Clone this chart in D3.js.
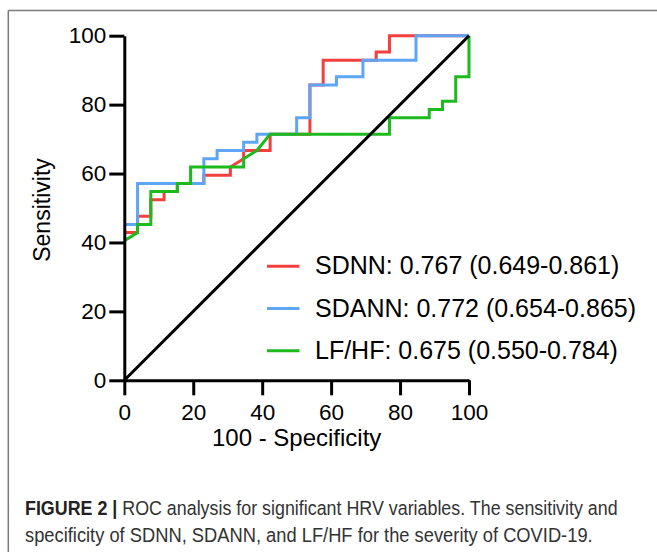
<!DOCTYPE html>
<html>
<head>
<meta charset="utf-8">
<script src="https://cdn.jsdelivr.net/npm/d3@7"></script>
<style>
  html, body { margin: 0; padding: 0; background: #fff; }
  svg { display: block; }
</style>
</head>
<body>
<svg id="chart" width="657" height="552"></svg>
<script>
// ---- Data (100 - Specificity %, Sensitivity %) ----
const sdnnX  = [0, 3.85, 3.85, 7.69, 7.69, 11.54, 11.54, 15.38, 15.38, 23.08, 23.08, 30.77, 30.77, 34.62, 34.62, 42.31, 42.31, 53.85, 53.85, 57.69, 57.69, 73.08, 73.08, 76.92, 76.92, 100];
const sdnnY  = [42.86, 42.86, 47.62, 47.62, 52.38, 52.38, 54.76, 54.76, 57.14, 57.14, 59.52, 59.52, 61.90, 64.29, 66.67, 66.67, 71.43, 71.43, 85.71, 85.71, 92.86, 92.86, 95.24, 95.24, 100, 100];

const sdannX = [0, 3.85, 3.85, 23.08, 23.08, 26.92, 26.92, 34.62, 34.62, 38.46, 38.46, 50, 50, 53.85, 53.85, 61.54, 61.54, 69.23, 69.23, 84.62, 84.62, 100];
const sdannY = [45.24, 45.24, 57.14, 57.14, 64.29, 64.29, 66.67, 66.67, 69.05, 69.05, 71.43, 71.43, 76.19, 76.19, 85.71, 85.71, 88.10, 88.10, 92.86, 92.86, 100, 100];

const lfhfX  = [0, 3.85, 3.85, 7.69, 7.69, 15.38, 15.38, 19.23, 19.23, 34.62, 34.62, 38.46, 42.31, 76.92, 76.92, 88.46, 88.46, 92.31, 92.31, 96.15, 96.15, 100, 100];
const lfhfY  = [40.48, 42.86, 45.24, 45.24, 54.76, 54.76, 57.14, 57.14, 61.90, 61.90, 64.29, 66.67, 71.43, 71.43, 76.19, 76.19, 78.57, 78.57, 80.95, 80.95, 88.10, 88.10, 100];

const referenceX = [0, 100];
const referenceY = [0, 100];

const seriesNames  = ["SDNN", "SDANN", "LF/HF"];
const legendLabels = ["SDNN: 0.767 (0.649-0.861)", "SDANN: 0.772 (0.654-0.865)", "LF/HF: 0.675 (0.550-0.784)"];
const seriesColors = ["#f2403f", "#5ea5f5", "#1cba1c"];

const xTicks = [0, 20, 40, 60, 80, 100];
const yTicks = [0, 20, 40, 60, 80, 100];

const xTitle = "100 - Specificity";
const yTitle = "Sensitivity";
const captionBold = "FIGURE 2 |";
const captionLine1 = " ROC analysis for significant HRV variables. The sensitivity and";
const captionLine2 = "specificity of SDNN, SDANN, and LF/HF for the severity of COVID-19.";

// ---- Layout ----
const svg = d3.select("#chart");
const FONT = "'Liberation Sans', Arial, Helvetica, sans-serif";

const x = d3.scaleLinear().domain([0, 100]).range([124.3, 469]);
const y = d3.scaleLinear().domain([0, 100]).range([380.3, 35.7]);

// frame (cropped box)
svg.append("line").attr("x1", 8.3).attr("x2", 657).attr("y1", 10.5).attr("y2", 10.5)
  .attr("stroke", "#7a7a7a").attr("stroke-width", 1.5);
svg.append("line").attr("x1", 8.3).attr("x2", 8.3).attr("y1", 10.5).attr("y2", 552)
  .attr("stroke", "#7a7a7a").attr("stroke-width", 1.5);

// curves
const line = d3.line().x(d => x(d[0])).y(d => y(d[1]));
const series = [
  d3.zip(sdnnX, sdnnY),
  d3.zip(sdannX, sdannY),
  d3.zip(lfhfX, lfhfY)
];
series.forEach((pts, i) => {
  svg.append("path").datum(pts).attr("d", line)
    .attr("fill", "none").attr("stroke", seriesColors[i])
    .attr("stroke-width", 3).attr("stroke-linejoin", "miter");
});

// reference diagonal
svg.append("path").datum(d3.zip(referenceX, referenceY)).attr("d", line)
  .attr("fill", "none").attr("stroke", "#000").attr("stroke-width", 3);

// axes
const xAxis = d3.axisBottom(x).tickValues(xTicks).tickSize(15).tickSizeOuter(0).tickPadding(9);
const yAxis = d3.axisLeft(y).tickValues(yTicks).tickSize(15).tickSizeOuter(0).tickPadding(3);

const gx = svg.append("g").attr("transform", `translate(0,${y(0)})`).call(xAxis);
const gy = svg.append("g").attr("transform", `translate(${x(0)},0)`).call(yAxis);
[gx, gy].forEach(g => {
  g.select(".domain").attr("stroke", "#000").attr("stroke-width", 3);
  g.selectAll(".tick line").attr("stroke", "#000").attr("stroke-width", 3);
  g.selectAll(".tick text").attr("fill", "#000")
    .style("font-family", FONT).style("font-size", "22.5px");
});

// axis titles
svg.append("text").attr("x", (x(0) + x(100)) / 2).attr("y", 446)
  .attr("text-anchor", "middle").style("font-family", FONT).style("font-size", "24px")
  .attr("fill", "#000").text(xTitle);
svg.append("text").attr("transform", "translate(49.5,210) rotate(-90)")
  .attr("text-anchor", "middle").style("font-family", FONT).style("font-size", "23px")
  .attr("fill", "#000").text(yTitle);

// legend
const legendY = d3.scalePoint().domain(seriesNames).range([266.3, 350.8]);
seriesNames.forEach((name, i) => {
  const ly = legendY(name);
  svg.append("line").attr("x1", 267).attr("x2", 299.5).attr("y1", ly).attr("y2", ly)
    .attr("stroke", seriesColors[i]).attr("stroke-width", 3);
  svg.append("text").attr("x", 315).attr("y", ly + 8)
    .style("font-family", FONT).style("font-size", "25px").attr("fill", "#000")
    .text(legendLabels[i]);
});

// caption (condensed by horizontal scaling to match width)
function fitText(g, targetWidth, left) {
  const w = g.node().getBBox().width;
  const s = targetWidth / w;
  g.attr("transform", `translate(${left},0) scale(${s},1)`);
}
const cap1 = svg.append("g");
const t1 = cap1.append("text").attr("x", 0).attr("y", 515)
  .style("font-family", FONT).style("font-size", "19.5px").attr("fill", "#333");
t1.append("tspan").style("font-weight", "bold").attr("fill", "#222").text(captionBold);
t1.append("tspan").text(captionLine1);
fitText(cap1, 593, 25);

const cap2 = svg.append("g");
cap2.append("text").attr("x", 0).attr("y", 542)
  .style("font-family", FONT).style("font-size", "19.5px").attr("fill", "#333")
  .text(captionLine2);
fitText(cap2, 568, 25);
</script>
</body>
</html>
